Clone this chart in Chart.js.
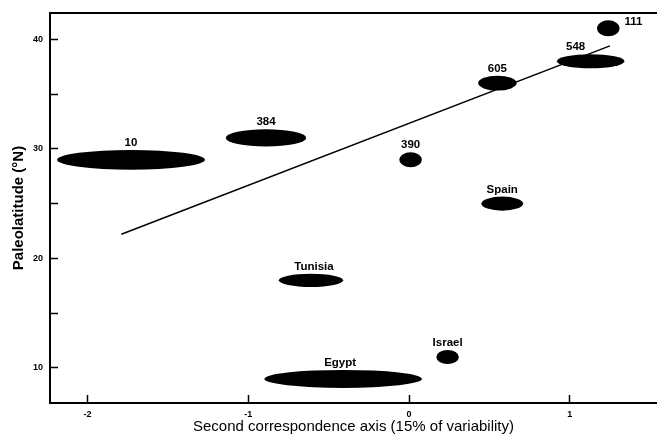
<!DOCTYPE html>
<html>
<head>
<meta charset="utf-8">
<script src="https://cdn.jsdelivr.net/npm/chart.js@4.4.1/dist/chart.umd.min.js"></script>
<style>
  html, body { margin: 0; padding: 0; background: #fff; }
  #wrap { width: 657px; height: 437px; position: relative; }
</style>
</head>
<body>
<div id="wrap"><canvas id="paleoChart"></canvas></div>
<script>
// sites, their score on the second correspondence axis and paleolatitude
const sites = ['10', '384', '390', '605', '548', '111', 'Spain', 'Tunisia', 'Egypt', 'Israel'];
const axis2 = [-1.73, -0.89, 0.01, 0.55, 1.13, 1.24, 0.58, -0.61, -0.41, 0.24];
const paleolat = [29, 31, 29, 36, 38, 41, 25, 18, 9, 11];
// half-extent of each ellipse, in axis units
const spreadX = [0.46, 0.25, 0.07, 0.12, 0.21, 0.07, 0.13, 0.2, 0.49, 0.07];
const spreadY = [0.9, 0.78, 0.68, 0.68, 0.64, 0.73, 0.64, 0.6, 0.82, 0.64];
// regression line end points
const fitX = [-1.79, 1.25];
const fitY = [22.2, 39.4];
const xTicks = [-2, -1, 0, 1];
const yTicks = [10, 15, 20, 25, 30, 35, 40];
const yLabelled = [10, 20, 30, 40];

const points = sites.map((s, i) => ({ x: axis2[i], y: paleolat[i], dx: spreadX[i], dy: spreadY[i], name: s }));
const fitLine = fitX.map((x, i) => ({ x: x, y: fitY[i] }));

// label nudges where the figure does not put the label straight above
const labelShift = { '548': [-15, 0], 'Tunisia': [3, 0], 'Egypt': [-3, 0] };

const ellipsePlugin = {
  id: 'ellipses',
  afterDatasetsDraw(chart) {
    const ctx = chart.ctx;
    const xs = chart.scales.x, ys = chart.scales.y;
    const area = chart.chartArea;
    ctx.save();
    // top frame line
    ctx.strokeStyle = '#000';
    ctx.lineWidth = 2;
    ctx.beginPath();
    ctx.moveTo(area.left, area.top);
    ctx.lineTo(area.right, area.top);
    ctx.stroke();

    ctx.fillStyle = '#000';
    ctx.font = 'bold 11.5px "Liberation Sans", Arial, sans-serif';
    points.forEach(p => {
      const cx = xs.getPixelForValue(p.x);
      const cy = ys.getPixelForValue(p.y);
      const rx = Math.abs(xs.getPixelForValue(p.x + p.dx) - cx);
      const ry = Math.abs(ys.getPixelForValue(p.y + p.dy) - cy);
      ctx.beginPath();
      ctx.ellipse(cx, cy, rx, ry, 0, 0, Math.PI * 2);
      ctx.fill();
      if (p.name === '111') {
        ctx.textAlign = 'left';
        ctx.textBaseline = 'middle';
        ctx.fillText(p.name, cx + rx + 5, cy - ry + 1);
      } else {
        const sh = labelShift[p.name] || [0, 0];
        ctx.textAlign = 'center';
        ctx.textBaseline = 'alphabetic';
        ctx.fillText(p.name, cx + sh[0], cy - ry - 4 + sh[1]);
      }
    });
    ctx.restore();
  }
};

const ctx = document.getElementById('paleoChart').getContext('2d');
new Chart(ctx, {
  type: 'scatter',
  data: {
    datasets: [
      {
        label: 'sites',
        data: points,
        pointRadius: 0,
        pointHoverRadius: 0
      },
      {
        type: 'line',
        label: 'fit',
        data: fitLine,
        borderColor: '#000',
        borderWidth: 1.5,
        pointRadius: 0,
        fill: false,
        tension: 0
      }
    ]
  },
  options: {
    responsive: true,
    maintainAspectRatio: false,
    animation: false,
    layout: { padding: { top: 13, right: 0, left: 0, bottom: 0 } },
    plugins: {
      legend: { display: false },
      tooltip: { enabled: false }
    },
    scales: {
      x: {
        type: 'linear',
        min: -2.234,
        max: 1.543,
        afterFit: s => { s.height = 34; s.paddingLeft = 0; s.paddingRight = 0; },
        afterBuildTicks: s => { s.ticks = xTicks.map(v => ({ value: v })); },
        ticks: {
          color: '#000',
          padding: 14,
          font: { family: '"Liberation Sans", Arial', size: 9, weight: 'bold' }
        },
        grid: { drawOnChartArea: false, tickLength: -8, tickColor: '#000', tickWidth: 1.5 },
        border: { color: '#000', width: 2 },
        title: {
          display: true,
          text: 'Second correspondence axis (15% of variability)',
          color: '#000',
          padding: { top: 0, bottom: 1 },
          font: { family: '"Liberation Sans", Arial', size: 15 }
        }
      },
      y: {
        type: 'linear',
        min: 6.8,
        max: 42.4,
        afterFit: s => { s.width = 50; s.paddingTop = 0; s.paddingBottom = 0; },
        afterBuildTicks: s => { s.ticks = yTicks.map(v => ({ value: v })); },
        ticks: {
          color: '#000',
          padding: 15,
          font: { family: '"Liberation Sans", Arial', size: 9, weight: 'bold' },
          callback: v => (yLabelled.includes(v) ? String(v) : '')
        },
        grid: { drawOnChartArea: false, tickLength: -8, tickColor: '#000', tickWidth: 1.5 },
        border: { color: '#000', width: 2 },
        title: {
          display: true,
          text: 'Paleolatitude (°N)',
          color: '#000',
          padding: { top: 10, bottom: 0 },
          font: { family: '"Liberation Sans", Arial', size: 15, weight: 'bold' }
        }
      }
    }
  },
  plugins: [ellipsePlugin]
});
</script>
</body>
</html>
